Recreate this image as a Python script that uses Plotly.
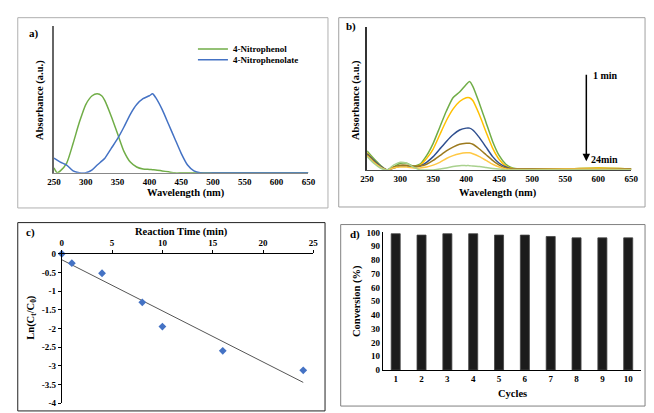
import plotly.graph_objects as go
import numpy as np

W, H = 654, 413

# ---------------- data ----------------
# panel a
wl_a = [250, 255, 260, 270, 280, 290, 300, 310, 318, 325, 330, 340, 350, 360, 370, 380, 390,
        400, 405, 410, 420, 430, 440, 450, 460, 470, 480, 500, 550, 600, 650]
nitrophenol = [0.05, 0.0, 0.02, 0.10, 0.30, 0.52, 0.70, 0.79, 0.81, 0.79, 0.74, 0.58, 0.40, 0.22, 0.11,
               0.06, 0.04, 0.035, 0.032, 0.03, 0.02, 0.01, 0.0, 0.0, 0.0, 0.0, 0.0, 0.0, 0.0, 0.0, 0.0]
nitrophenolate = [0.15, 0.13, 0.11, 0.08, 0.02, 0.0, 0.0, 0.03, 0.08, 0.12, 0.15, 0.25, 0.35, 0.47, 0.60,
                  0.70, 0.76, 0.79, 0.81, 0.77, 0.65, 0.50, 0.35, 0.20, 0.08, 0.02, 0.0, 0.0, 0.0, 0.0, 0.0]

# panel b
wl_b = [250, 260, 270, 280, 290, 300, 310, 320, 330, 340, 350, 360, 370, 380, 390, 400, 405,
        410, 420, 430, 440, 450, 460, 470, 480, 500, 550, 600, 650]
t_1min = [0.20, 0.12, 0.05, 0.0, 0.03, 0.07, 0.07, 0.04, 0.06, 0.15, 0.28, 0.45, 0.62, 0.76, 0.82, 0.90, 0.93,
          0.88, 0.70, 0.50, 0.30, 0.15, 0.06, 0.02, 0.01, 0.01, 0.01, 0.02, 0.01]
t_2 = [0.18, 0.10, 0.04, 0.0, 0.02, 0.04, 0.04, 0.03, 0.05, 0.12, 0.22, 0.37, 0.52, 0.64, 0.72, 0.76, 0.76,
       0.73, 0.58, 0.40, 0.23, 0.11, 0.04, 0.015, 0.01, 0.01, 0.01, 0.02, 0.01]
t_3 = [0.17, 0.10, 0.04, 0.0, 0.02, 0.04, 0.04, 0.03, 0.04, 0.08, 0.14, 0.22, 0.30, 0.37, 0.42, 0.44, 0.44,
       0.42, 0.34, 0.24, 0.14, 0.07, 0.03, 0.01, 0.01, 0.01, 0.01, 0.01, 0.01]
t_4 = [0.16, 0.09, 0.03, 0.0, 0.03, 0.05, 0.05, 0.04, 0.04, 0.06, 0.10, 0.15, 0.20, 0.24, 0.27, 0.28, 0.28,
       0.27, 0.22, 0.16, 0.10, 0.05, 0.02, 0.01, 0.01, 0.01, 0.01, 0.01, 0.01]
t_5 = [0.15, 0.08, 0.03, 0.0, 0.02, 0.03, 0.03, 0.02, 0.02, 0.03, 0.05, 0.08, 0.12, 0.15, 0.17, 0.18, 0.18,
       0.17, 0.14, 0.10, 0.06, 0.03, 0.01, 0.005, 0.005, 0.005, 0.01, 0.01, 0.005]
t_24min = [0.14, 0.07, 0.02, 0.0, 0.05, 0.08, 0.07, 0.03, 0.0, 0.0, 0.0, 0.01, 0.02, 0.035, 0.045, 0.045, 0.045,
           0.04, 0.035, 0.025, 0.015, 0.01, 0.0, 0.0, 0.0, 0.0, 0.0, 0.0, 0.0]
spectra_b = [t_1min, t_2, t_3, t_4, t_5, t_24min]
colors_b = ["#70ad47", "#ffc000", "#2f4f8f", "#9c7a1e", "#ffc844", "#a9d18e"]

# panel c
time_min = [0, 1, 4, 8, 10, 16, 24]
ln_ct_c0 = [0.0, -0.25, -0.52, -1.30, -1.95, -2.60, -3.12]
c_yticks = [0, -0.5, -1, -1.5, -2, -2.5, -3, -3.5, -4]
c_yticklabels = ["0", "-0.5", "-1", "-1.5", "-2", "-2.5", "-3", "-3.5", "-4"]

# panel d
cycles = [1, 2, 3, 4, 5, 6, 7, 8, 9, 10]
conversion = [99, 98, 99, 99, 98, 98, 97, 96, 96, 96]

# ---------------- helpers ----------------
def px(x):
    return x / W

def py(y):
    return 1 - y / H

FONT = "Liberation Serif"

fig = go.Figure()

# panel a
fig.add_trace(go.Scatter(x=wl_a, y=nitrophenol, mode="lines", name="4-Nitrophenol",
                         line=dict(color="#70ad47", width=1.5, shape="spline", smoothing=0.6),
                         xaxis="x", yaxis="y", legend="legend"))
fig.add_trace(go.Scatter(x=wl_a, y=nitrophenolate, mode="lines", name="4-Nitrophenolate",
                         line=dict(color="#4472c4", width=1.5, shape="spline", smoothing=0.6),
                         xaxis="x", yaxis="y", legend="legend2"))

# panel b
for s, c in zip(spectra_b, colors_b):
    fig.add_trace(go.Scatter(x=wl_b, y=s, mode="lines", showlegend=False,
                             line=dict(color=c, width=1.5, shape="spline", smoothing=0.6),
                             xaxis="x2", yaxis="y2"))

# panel c
coef = np.polyfit(time_min, ln_ct_c0, 1)
fit_x = [time_min[0], time_min[-1]]
fit_y = [coef[0] * v + coef[1] for v in fit_x]
fig.add_trace(go.Scatter(x=fit_x, y=fit_y, mode="lines", showlegend=False,
                         line=dict(color="#555555", width=1), xaxis="x3", yaxis="y3"))
fig.add_trace(go.Scatter(x=time_min, y=ln_ct_c0, mode="markers", showlegend=False,
                         marker=dict(symbol="diamond", size=6, color="#4472c4"),
                         xaxis="x3", yaxis="y3", cliponaxis=False))

# panel d
fig.add_trace(go.Bar(x=cycles, y=conversion, showlegend=False,
                     marker=dict(color="#1c1c1c", line=dict(color="#444444", width=0.8)),
                     xaxis="x4", yaxis="y4"))

tickfont = dict(family=FONT, size=9, color="black", weight="bold")
axcommon = dict(showgrid=False, zeroline=False, tickfont=tickfont)

fig.update_layout(
    width=W, height=H,
    margin=dict(l=0, r=0, t=0, b=0),
    paper_bgcolor="white", plot_bgcolor="white",
    font=dict(family=FONT, color="black", weight="bold"),
    bargap=0.65,
    xaxis=dict(domain=[px(48), px(308)], range=[250, 650], tickvals=[250, 300, 350, 400, 450, 500, 550, 600, 650],
               showline=True, linecolor="#888888", linewidth=1, ticks="", anchor="y", **axcommon),
    yaxis=dict(domain=[py(172), py(22)], range=[0, 1.5], showticklabels=False, ticks="",
               showline=True, linecolor="#666666", linewidth=1.5, anchor="x", **axcommon),
    xaxis2=dict(domain=[px(368), px(638)], range=[250, 650], tickvals=[250, 300, 350, 400, 450, 500, 550, 600, 650],
                showline=True, linecolor="#444444", linewidth=1, ticks="", anchor="y2", **axcommon),
    yaxis2=dict(domain=[py(169), py(23)], range=[0, 1.5], showticklabels=False, ticks="",
                showline=True, linecolor="#333333", linewidth=1.5, anchor="x2", **axcommon),
    xaxis3=dict(domain=[px(56), px(313)], range=[0, 25], side="top", tickvals=[0, 5, 10, 15, 20, 25],
                showline=True, linecolor="black", linewidth=1, ticks="outside", ticklen=3, tickcolor="black",
                anchor="y3", **axcommon),
    yaxis3=dict(domain=[py(408), py(255)], range=[-4, 0], tickvals=c_yticks, ticktext=c_yticklabels,
                showline=True, linecolor="black", linewidth=1, ticks="outside", ticklen=3, tickcolor="black",
                anchor="x3", **axcommon),
    xaxis4=dict(domain=[px(384), px(648)], range=[0.5, 10.5], tickvals=cycles,
                showline=True, linecolor="black", linewidth=1, ticks="", anchor="y4", **axcommon),
    yaxis4=dict(domain=[py(374), py(233)], range=[0, 100], tickvals=list(range(0, 101, 10)),
                showline=True, linecolor="black", linewidth=1, ticks="", anchor="x4", **axcommon),
    legend=dict(x=px(190), y=py(45), xanchor="left", yanchor="middle", bgcolor="rgba(0,0,0,0)",
                font=dict(family=FONT, size=9, color="black", weight="bold"), itemwidth=30),
    legend2=dict(x=px(190), y=py(56), xanchor="left", yanchor="middle", bgcolor="rgba(0,0,0,0)",
                 font=dict(family=FONT, size=9, color="black", weight="bold"), itemwidth=30),
)

# panel borders
borders = [((11, 13, 328, 208), "#b0b0b0"), ((339, 13, 652, 207), "#a0a0a0"),
           ((11, 223, 325, 416), "#222222"), ((341, 225, 652, 411), "#808080")]
for (x0, y0, x1, y1), col in borders:
    fig.add_shape(type="rect", xref="paper", yref="paper", x0=px(x0), x1=px(x1), y0=py(y1), y1=py(y0),
                  line=dict(color=col, width=1), layer="below")

def ann(text, x, y, size=10.5, angle=0, xanchor="center"):
    fig.add_annotation(text=text, xref="paper", yref="paper", x=px(x), y=py(y), showarrow=False,
                       textangle=angle, xanchor=xanchor, yanchor="middle",
                       font=dict(family=FONT, size=size, color="black", weight="bold"))

# panel labels
ann("a)", 20, 29, size=11, xanchor="left")
ann("b)", 344, 22, size=11, xanchor="left")
ann("c)", 17, 233, size=11, xanchor="left")
ann("d)", 348, 235, size=11, xanchor="left")

# axis titles
ann("Wavelength (nm)", 183, 193)
ann("Absorbance (a.u.)", 33, 97, angle=-90)
ann("Wavelength (nm)", 502, 193)
ann("Absorbance (a.u.)", 356, 97, angle=-90)
ann("Reaction Time (min)", 178, 233)
ann("Ln(C<sub>t</sub>/C<sub>0</sub>)", 25, 320, angle=-90)
ann("Conversion (%)", 357, 303, angle=-90)
ann("Cycles", 517, 398)

# arrow in panel b
fig.add_annotation(text="", xref="paper", yref="paper", x=px(592), y=py(160), ax=0, ay=-88,
                   showarrow=True, arrowhead=2, arrowsize=1, arrowwidth=1.5, arrowcolor="black")
ann("1 min", 597, 72, size=10, xanchor="left")
ann("24min", 595, 158, size=10, xanchor="left")

fig.write_html("out.html", config={"displayModeBar": False},
               post_script="document.body.style.margin='0px';document.body.style.overflow='hidden';")
